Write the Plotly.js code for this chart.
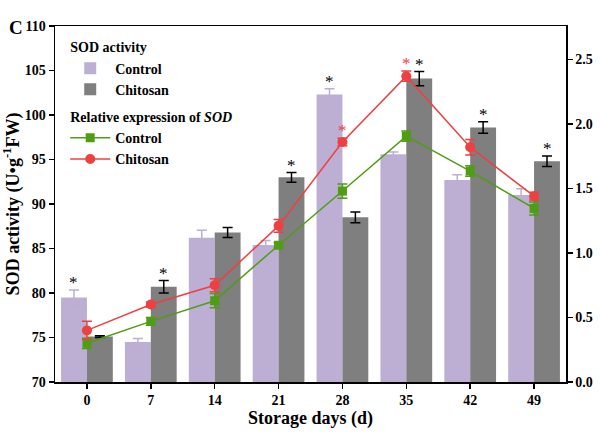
<!DOCTYPE html>
<html>
<head>
<meta charset="utf-8">
<script src="https://cdn.plot.ly/plotly-3.0.1.min.js"></script>
<style>html,body{margin:0;padding:0;background:#fff;}#chart{width:600px;height:442px;}</style>
</head>
<body>
<div id="chart"></div>
<script>
const days = ["0","7","14","21","28","35","42","49"];
const sodControl = [79.5, 74.5, 86.2, 85.4, 102.3, 95.6, 92.7, 91.0];
const sodControlErr = [0.85, 0.4, 0.85, 0.5, 0.65, 0.25, 0.6, 0.7];
const sodChitosan = [75.1, 80.7, 86.8, 93.0, 88.5, 104.1, 98.6, 94.8];
const sodChitosanErr = [0.1, 0.7, 0.55, 0.55, 0.6, 0.8, 0.65, 0.6];
const exprControl = [0.30, 0.47, 0.63, 1.06, 1.48, 1.905, 1.635, 1.345];
const exprControlErr = [0.04, 0.03, 0.055, 0.02, 0.055, 0.04, 0.04, 0.05];
const exprChitosan = [0.40, 0.60, 0.75, 1.21, 1.86, 2.37, 1.82, 1.44];
const exprChitosanErr = [0.07, 0.02, 0.05, 0.05, 0.03, 0.04, 0.06, 0.03];
// significance markers
const starControlBar = [true, false, false, false, true, false, false, false];
const starChitosanBar = [false, true, false, true, false, true, true, true];
const starChitosanLine = [false, false, false, false, true, true, false, false];

const serif = "Liberation Serif, Times New Roman, serif";
const cLav = "#bcafd3", cGray = "#7f7f7f", cGreen = "#4f9d12", cRed = "#ee4040";

const traces = [
  {type:"bar", x:days, y:sodControl, name:"Control", legendgroup:"sod",
   legendgrouptitle:{text:"SOD activity", font:{family:serif,size:14,color:"#000",weight:"bold"}},
   marker:{color:cLav}, error_y:{type:"data", array:sodControlErr, color:cLav, thickness:1.5, width:5}},
  {type:"bar", x:days, y:sodChitosan, name:"Chitosan", legendgroup:"sod",
   marker:{color:cGray}, error_y:{type:"data", array:sodChitosanErr, color:"#000", thickness:1.5, width:5}},
  {type:"scatter", mode:"lines+markers", x:days, y:exprControl, yaxis:"y2", name:"Control", legendgroup:"expr",
   legendgrouptitle:{text:"Relative expression of <i>SOD</i>", font:{family:serif,size:14,color:"#000",weight:"bold"}},
   line:{color:cGreen, width:1.5}, marker:{symbol:"square", size:9, color:cGreen},
   error_y:{type:"data", array:exprControlErr, color:cGreen, thickness:1.5, width:5}},
  {type:"scatter", mode:"lines+markers", x:days, y:exprChitosan, yaxis:"y2", name:"Chitosan", legendgroup:"expr",
   line:{color:cRed, width:1.5}, marker:{symbol:"circle", size:10, color:cRed},
   error_y:{type:"data", array:exprChitosanErr, color:cRed, thickness:1.5, width:5}}
];

const ann = [];
days.forEach((d,i)=>{
  if (starControlBar[i]) ann.push({x:i, y:sodControl[i]+sodControlErr[i], xshift:-13, yshift:7, text:"*", showarrow:false, font:{family:serif,size:17,color:"#000"}});
  if (starChitosanBar[i]) ann.push({x:i, y:sodChitosan[i]+sodChitosanErr[i], xshift:13, yshift:7, text:"*", showarrow:false, font:{family:serif,size:17,color:"#000"}});
  if (starChitosanLine[i]) ann.push({x:i, y:exprChitosan[i]+exprChitosanErr[i], yref:"y2", yshift:8, text:"*", showarrow:false, font:{family:serif,size:17,color:cRed}});
});
ann.push({xref:"paper", yref:"paper", x:-0.093, y:0.995, xanchor:"left", yanchor:"middle", text:"<b>C</b>", showarrow:false, font:{family:serif,size:19,color:"#000"}});

const layout = {
  width:600, height:442,
  margin:{l:55, r:34, t:26, b:60},
  paper_bgcolor:"#fff", plot_bgcolor:"#fff",
  barmode:"group", bargap:0.19, bargroupgap:0,
  font:{family:serif, color:"#000"},
  showlegend:true,
  legend:{x:0.02, y:0.985, xanchor:"left", yanchor:"top", bgcolor:"rgba(0,0,0,0)",
          font:{family:serif, size:14, weight:"bold", color:"#000"}, tracegroupgap:6, traceorder:"grouped", itemwidth:40},
  xaxis:{type:"category", range:[-0.5,7.5], showline:true, linecolor:"#000", linewidth:1.5, mirror:true,
         ticks:"outside", ticklen:5, tickwidth:1.5, tickcolor:"#000", showgrid:false, zeroline:false,
         tickfont:{family:serif, size:14, weight:"bold"},
         title:{text:"Storage days (d)", font:{family:serif, size:18, weight:"bold"}, standoff:1}},
  yaxis:{range:[70,110], dtick:5, showline:true, linecolor:"#000", linewidth:1.5,
         ticks:"outside", ticklen:5, tickwidth:1.5, tickcolor:"#000", showgrid:false, zeroline:false,
         tickfont:{family:serif, size:14, weight:"bold"},
         title:{text:"SOD activity (U•g<sup>-1</sup>FW)", font:{family:serif, size:18, weight:"bold"}, standoff:4}},
  yaxis2:{overlaying:"y", side:"right", range:[0,2.759], dtick:0.5, tickformat:".1f", showline:true, linecolor:"#000", linewidth:1.5,
         ticks:"outside", ticklen:5, tickwidth:1.5, tickcolor:"#000", showgrid:false, zeroline:false,
         tickfont:{family:serif, size:14, weight:"bold"}},
  annotations:ann
};
Plotly.newPlot("chart", traces, layout, {displayModeBar:false, staticPlot:true});
</script>
</body>
</html>
